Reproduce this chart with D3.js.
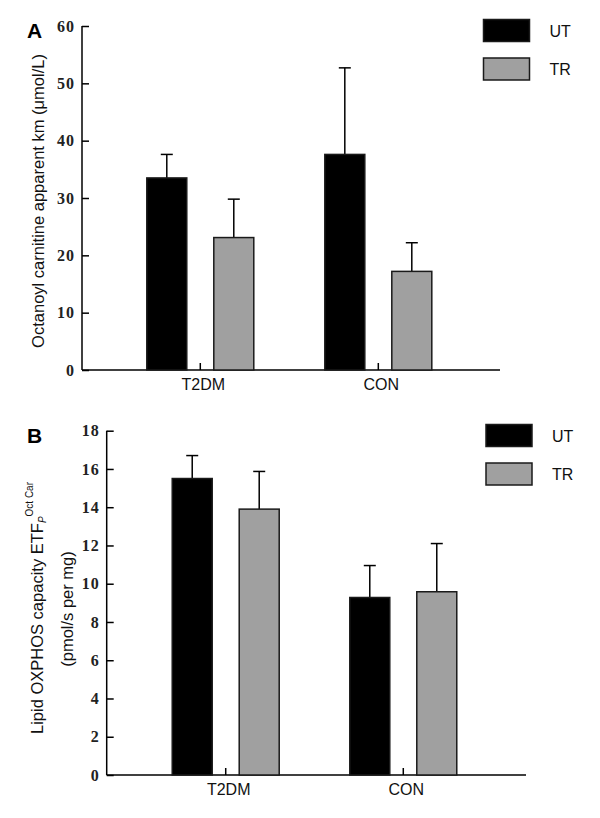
<!DOCTYPE html>
<html>
<head>
<meta charset="utf-8">
<script src="https://cdn.jsdelivr.net/npm/d3@7"></script>
<style>
  html, body { margin: 0; padding: 0; background: #fff; }
  svg { display: block; }
</style>
</head>
<body>
<svg id="chart" width="600" height="818"></svg>
<script>
// ---- data ----
const categories = ["T2DM", "CON"];
const seriesNames = ["UT", "TR"];
const seriesColors = ["#000000", "#a0a0a0"];

// Panel A: Octanoyl carnitine apparent km (μmol/L)
const kmMean = [[33.5, 23.1], [37.6, 17.2]];   // [category][series]
const kmErr  = [[37.6, 29.8], [52.7, 22.2]];   // top of error bar
const kmTicks = [0, 10, 20, 30, 40, 50, 60];

// Panel B: Lipid OXPHOS capacity
const oxMean = [[15.5, 13.9], [9.28, 9.58]];
const oxErr  = [[16.7, 15.87], [10.95, 12.1]];
const oxTicks = [0, 2, 4, 6, 8, 10, 12, 14, 16, 18];

const svg = d3.select("#chart");
const sans = "'Liberation Sans', Arial, sans-serif";
const serif = "'Liberation Serif', 'Times New Roman', serif";

function panel(opt) {
  const g = svg.append("g");
  const y = d3.scaleLinear().domain([0, opt.ymax]).range([opt.y0, opt.y1]);
  const x = d3.scaleBand().domain(categories).range([opt.ax, opt.xPlot1])
    .paddingInner(opt.padInner).paddingOuter(opt.padOuter);
  const xs = d3.scaleBand().domain(seriesNames).range([0, x.bandwidth()]).paddingInner(0.403).paddingOuter(0);

  // y axis
  const ya = g.append("g").attr("transform", `translate(${opt.ax},0)`)
    .call(d3.axisLeft(y).tickValues(opt.ticks).tickSizeInner(-7).tickSizeOuter(0).tickPadding(7));
  ya.select(".domain").attr("stroke", "#000").attr("stroke-width", 1.5).attr("d", `M0,${opt.y0}V${opt.y1}`);
  ya.selectAll(".tick line").attr("stroke", "#000").attr("stroke-width", 1.5);
  ya.selectAll(".tick text").attr("font-family", serif).attr("font-size", 16).attr("font-weight", "bold")
    .attr("letter-spacing", 1).attr("fill", "#222");

  // x axis
  const xa = g.append("g").attr("transform", `translate(0,${opt.y0})`)
    .call(d3.axisBottom(x).tickSizeInner(-7).tickSizeOuter(0).tickPadding(9));
  xa.select(".domain").attr("stroke", "#000").attr("stroke-width", 1.5).attr("d", `M${opt.ax},0H${opt.axEnd}`);
  xa.selectAll(".tick line").attr("stroke", "#000").attr("stroke-width", 1.5);
  xa.selectAll(".tick text").attr("font-family", sans).attr("font-size", 16).attr("fill", "#111").attr("dx", 3);

  // bars
  categories.forEach((c, ci) => {
    seriesNames.forEach((s, si) => {
      const bx = x(c) + xs(s);
      const bw = xs.bandwidth();
      const cx = bx + bw / 2;
      // error bar
      g.append("line").attr("x1", cx).attr("x2", cx)
        .attr("y1", y(opt.mean[ci][si])).attr("y2", y(opt.err[ci][si]))
        .attr("stroke", "#000").attr("stroke-width", 1.5);
      g.append("line").attr("x1", cx - 6).attr("x2", cx + 6)
        .attr("y1", y(opt.err[ci][si])).attr("y2", y(opt.err[ci][si]))
        .attr("stroke", "#000").attr("stroke-width", 1.5);
      g.append("rect").attr("x", bx).attr("y", y(opt.mean[ci][si]))
        .attr("width", bw).attr("height", opt.y0 - y(opt.mean[ci][si]))
        .attr("fill", seriesColors[si]).attr("stroke", "#1a1a1a").attr("stroke-width", 1.5);
    });
  });

  // legend
  seriesNames.forEach((s, si) => {
    g.append("rect").attr("x", opt.legX).attr("y", opt.legY + si * opt.legStep)
      .attr("width", 46).attr("height", 22)
      .attr("fill", seriesColors[si]).attr("stroke", "#1a1a1a").attr("stroke-width", 1.5);
    g.append("text").attr("x", opt.legX + 66).attr("y", opt.legY + si * opt.legStep + 17)
      .attr("font-family", sans).attr("font-size", 16).attr("fill", "#111").text(s);
  });

  // panel letter
  g.append("text").attr("x", 27).attr("y", opt.letterY).attr("font-family", sans)
    .attr("font-weight", "bold").attr("font-size", 21).text(opt.letter);
  return { g, y };
}

const A = panel({
  ymax: 60, y0: 370, y1: 26, ax: 82, axEnd: 500,
  xPlot1: 496.6, padInner: 0.399, padOuter: 0.364,
  ticks: kmTicks, mean: kmMean, err: kmErr,
  legX: 483.5, legY: 19.5, legStep: 38.5, letter: "A", letterY: 38
});
A.g.append("text")
  .attr("transform", "translate(44,201) rotate(-90)")
  .attr("text-anchor", "middle").attr("font-family", sans).attr("font-size", 16.5).attr("fill", "#111")
  .text("Octanoyl carnitine apparent km (μmol/L)");

const B = panel({
  ymax: 18, y0: 775, y1: 430.7, ax: 106.7, axEnd: 526,
  xPlot1: 522.3, padInner: 0.3975, padOuter: 0.369,
  ticks: oxTicks, mean: oxMean, err: oxErr,
  legX: 486, legY: 424.5, legStep: 38.5, letter: "B", letterY: 443
});
const lab1 = B.g.append("text")
  .attr("transform", "translate(43,608) rotate(-90)")
  .attr("text-anchor", "middle").attr("font-family", sans).attr("font-size", 16.5).attr("fill", "#111");
lab1.append("tspan").text("Lipid OXPHOS capacity ETF");
lab1.append("tspan").attr("font-size", 10).attr("font-style", "italic").attr("dy", 3).text("P");
lab1.append("tspan").attr("font-size", 10).attr("dy", -13).text("Oct Car");
B.g.append("text")
  .attr("transform", "translate(73,609) rotate(-90)")
  .attr("text-anchor", "middle").attr("font-family", sans).attr("font-size", 16.5).attr("fill", "#111")
  .text("(pmol/s per mg)");
</script>
</body>
</html>
